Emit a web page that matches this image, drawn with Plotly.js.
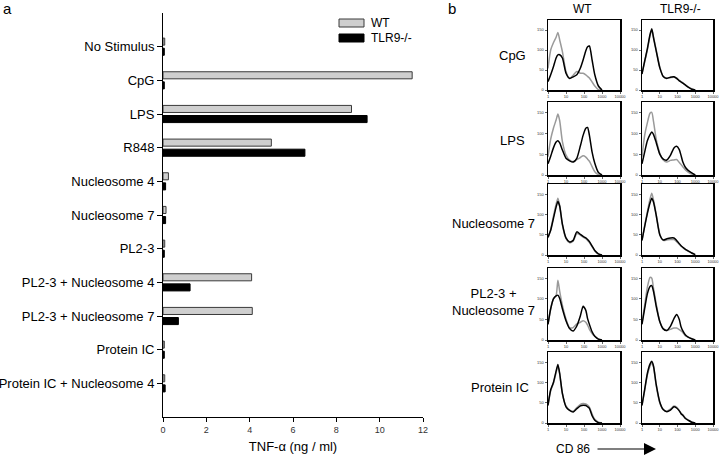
<!DOCTYPE html>
<html>
<head>
<meta charset="utf-8">
<script src="https://cdn.plot.ly/plotly-3.0.1.min.js"></script>
<style>html,body{margin:0;padding:0;background:#fff;}#chart{width:720px;height:458px;}</style>
</head>
<body>
<div id="chart"></div>
<script>
// ---------- Panel a data ----------
const stimuli = ["No Stimulus", "CpG", "LPS", "R848", "Nucleosome 4", "Nucleosome 7", "PL2-3",
  "PL2-3 + Nucleosome 4", "PL2-3 + Nucleosome 7", "Protein IC", "Protein IC + Nucleosome 4"];
const tnfWT    = [0.08, 11.5, 8.7, 5.0, 0.25, 0.14, 0.08, 4.09, 4.12, 0.06, 0.08];
const tnfTLR9  = [0.06, 0.06, 9.42, 6.55, 0.12, 0.12, 0.06, 1.25, 0.71, 0.06, 0.1];
const tnfTicks = [0, 2, 4, 6, 8, 10, 12];

// ---------- Panel b data (CD86 histograms) ----------
const cd86 = [1, 1.41, 2, 2.82, 3.55, 4.47, 6.31, 10, 15.8, 25.1, 39.8, 63.1, 89.1, 126, 158, 200, 282, 398, 631, 1000];
const cd86Ticks = [1, 10, 100, 1000, 10000];
const countTicks = [0, 50, 100, 150];
const rowLabels = ["CpG", "LPS", "Nucleosome 7", "PL2-3 +<br>Nucleosome 7", "Protein IC"];
const colLabels = ["WT", "TLR9-/-"];

const cpgWtGray    = [54, 100, 118, 132, 144, 125, 96, 46, 29, 37, 46, 42, 42, 38, 34, 30, 20, 10, 1, 0];
const cpgWtBlack   = [21, 38, 58, 80, 88, 88, 80, 42, 29, 33, 38, 55, 75, 98, 108, 110, 75, 38, 10, 0];
const cpgKoGray    = [42, 70, 100, 135, 150, 132, 100, 58, 33, 30, 31, 32, 30, 24, 21, 18, 13, 8, 3, 0];
const cpgKoBlack   = [40, 72, 103, 138, 153, 130, 98, 56, 34, 29, 32, 33, 29, 23, 20, 17, 12, 7, 2, 0];
const lpsWtGray    = [44, 86, 112, 132, 146, 130, 80, 48, 36, 32, 37, 42, 46, 43, 38, 33, 20, 8, 1, 0];
const lpsWtBlack   = [27, 45, 65, 79, 82, 77, 60, 40, 34, 31, 40, 70, 95, 112, 114, 95, 55, 28, 6, 0];
const lpsKoGray    = [44, 95, 125, 148, 150, 128, 86, 53, 36, 31, 35, 36, 37, 30, 25, 20, 12, 7, 2, 0];
const lpsKoBlack   = [27, 55, 82, 97, 103, 97, 78, 50, 38, 36, 47, 65, 69, 61, 47, 31, 18, 11, 5, 0];
const nuc7WtGray   = [42, 63, 95, 125, 140, 122, 74, 40, 30, 34, 53, 49, 44, 40, 36, 31, 21, 10, 2, 0];
const nuc7WtBlack  = [44, 61, 90, 118, 132, 120, 76, 42, 32, 36, 57, 51, 46, 42, 38, 33, 22, 11, 3, 0];
const nuc7KoGray   = [36, 72, 106, 138, 152, 135, 100, 52, 36, 37, 38, 38, 33, 26, 22, 18, 13, 9, 5, 1];
const nuc7KoBlack  = [36, 70, 102, 128, 140, 130, 98, 50, 37, 40, 42, 42, 36, 28, 23, 19, 14, 10, 5, 1];
const plNucWtGray  = [38, 76, 100, 108, 145, 118, 84, 51, 30, 30, 39, 43, 47, 43, 36, 26, 16, 9, 2, 0];
const plNucWtBlack = [38, 76, 100, 107, 109, 101, 76, 47, 28, 22, 34, 59, 82, 72, 52, 38, 20, 9, 2, 0];
const plNucKoGray  = [42, 84, 128, 152, 150, 125, 88, 45, 27, 23, 26, 29, 29, 25, 22, 18, 10, 7, 3, 0];
const plNucKoBlack = [38, 76, 112, 130, 132, 118, 82, 45, 27, 23, 33, 52, 62, 50, 32, 22, 12, 7, 3, 0];
const picWtGray    = [42, 80, 98, 124, 140, 120, 72, 42, 32, 29, 38, 46, 48, 47, 44, 39, 22, 9, 2, 0];
const picWtBlack   = [44, 82, 100, 128, 144, 122, 73, 40, 31, 27, 35, 42, 44, 43, 40, 36, 18, 7, 1, 0];
const picKoGray    = [42, 80, 118, 140, 148, 138, 92, 50, 32, 29, 34, 42, 39, 31, 24, 20, 12, 7, 2, 0];
const picKoBlack   = [44, 82, 122, 145, 152, 140, 95, 52, 33, 28, 32, 40, 37, 30, 23, 19, 11, 7, 2, 0];

const histPanels = [
  [[cpgWtGray, cpgWtBlack], [cpgKoGray, cpgKoBlack]],
  [[lpsWtGray, lpsWtBlack], [lpsKoGray, lpsKoBlack]],
  [[nuc7WtGray, nuc7WtBlack], [nuc7KoGray, nuc7KoBlack]],
  [[plNucWtGray, plNucWtBlack], [plNucKoGray, plNucKoBlack]],
  [[picWtGray, picWtBlack], [picKoGray, picKoBlack]]
];

// ---------- Layout geometry (pixels) ----------
const W = 720, H = 458;
const FONT = "Liberation Sans, Arial, sans-serif";
const px = v => v / W;
const py = v => 1 - v / H;

const traces = [];
traces.push({
  type: "bar", orientation: "h", name: "WT",
  y: stimuli, x: tnfWT,
  marker: {color: "#cfcfcf", line: {color: "#3a3a3a", width: 1}},
  xaxis: "x", yaxis: "y", showlegend: false, hoverinfo: "x+y"
});
traces.push({
  type: "bar", orientation: "h", name: "TLR9-/-",
  y: stimuli, x: tnfTLR9,
  marker: {color: "#000000", line: {color: "#000000", width: 1}},
  xaxis: "x", yaxis: "y", showlegend: false, hoverinfo: "x+y"
});

const layout = {
  width: W, height: H,
  margin: {l: 0, r: 0, t: 0, b: 0},
  paper_bgcolor: "#fff", plot_bgcolor: "rgba(0,0,0,0)",
  font: {family: FONT, color: "#000"},
  barmode: "group", bargap: 0.4, bargroupgap: 0.3,
  showlegend: false,
  xaxis: {
    domain: [px(163), px(423)], range: [0, 12], tickvals: tnfTicks,
    showline: true, linecolor: "#000", linewidth: 1,
    ticks: "outside", ticklen: 4, tickcolor: "#000",
    showgrid: false, zeroline: false,
    tickfont: {size: 9, color: "#333"},
    title: {text: "TNF-α (ng / ml)", font: {size: 13, color: "#000"}, standoff: 8},
    anchor: "y"
  },
  yaxis: {
    domain: [py(417), py(13)], type: "category",
    categoryorder: "array", categoryarray: stimuli,
    range: [11, -1],
    showline: true, linecolor: "#000", linewidth: 1,
    ticks: "outside", ticklen: 5, tickcolor: "#000",
    showgrid: false, zeroline: false,
    tickfont: {size: 13, color: "#000"},
    anchor: "x"
  },
  shapes: [],
  annotations: []
};

// legend (panel a)
layout.shapes.push({type: "rect", xref: "paper", yref: "paper", x0: px(339), x1: px(364), y0: py(27), y1: py(19),
  fillcolor: "#cfcfcf", line: {color: "#3a3a3a", width: 1}});
layout.shapes.push({type: "rect", xref: "paper", yref: "paper", x0: px(339), x1: px(364), y0: py(42), y1: py(34),
  fillcolor: "#000", line: {color: "#000", width: 1}});
layout.annotations.push({xref: "paper", yref: "paper", x: px(369), y: py(23), text: "WT", showarrow: false,
  xanchor: "left", yanchor: "middle", font: {size: 12}});
layout.annotations.push({xref: "paper", yref: "paper", x: px(369), y: py(38), text: "TLR9-/-", showarrow: false,
  xanchor: "left", yanchor: "middle", font: {size: 12}});

// panel letters
layout.annotations.push({xref: "paper", yref: "paper", x: px(1), y: py(9), text: "a", showarrow: false,
  xanchor: "left", yanchor: "middle", font: {size: 15}});
layout.annotations.push({xref: "paper", yref: "paper", x: px(446), y: py(9), text: "b", showarrow: false,
  xanchor: "left", yanchor: "middle", font: {size: 15}});

// panel b grid
const colX = [[548, 620], [642, 713]];
const rowY = [[20, 90], [102, 175], [184, 255], [268, 340], [352, 423]];
let ax = 2;
for (let r = 0; r < rowY.length; r++) {
  for (let c = 0; c < colX.length; c++) {
    const xa = "xaxis" + ax, ya = "yaxis" + ax;
    layout[xa] = {
      domain: [px(colX[c][0]), px(colX[c][1])], type: "log", range: [0, 4],
      tickvals: cd86Ticks, ticktext: cd86Ticks.map(String),
      showline: true, mirror: true, linecolor: "#000", linewidth: 1.5,
      ticks: "outside", ticklen: 2, tickwidth: 0.6, tickcolor: "#000",
      showgrid: false, zeroline: false,
      tickfont: {size: 4, color: "#333"}, anchor: "y" + ax
    };
    layout[ya] = {
      domain: [py(rowY[r][1]), py(rowY[r][0])], range: [0, 175],
      tickvals: countTicks,
      showline: true, mirror: true, linecolor: "#000", linewidth: 1.5,
      ticks: "outside", ticklen: 2, tickwidth: 0.6, tickcolor: "#000",
      showgrid: false, zeroline: false,
      tickfont: {size: 4, color: "#333"}, anchor: "x" + ax
    };
    const [gray, black] = histPanels[r][c];
    traces.push({type: "scatter", mode: "lines", x: cd86, y: gray,
      line: {color: "#9a9a9a", width: 1.5, shape: "spline", smoothing: 0.6},
      xaxis: "x" + ax, yaxis: "y" + ax, showlegend: false, hoverinfo: "x+y"});
    traces.push({type: "scatter", mode: "lines", x: cd86, y: black,
      line: {color: "#000", width: 1.5, shape: "spline", smoothing: 0.6},
      xaxis: "x" + ax, yaxis: "y" + ax, showlegend: false, hoverinfo: "x+y"});
    ax++;
  }
}

// column titles
layout.annotations.push({xref: "paper", yref: "paper", x: px(582), y: py(9), text: colLabels[0], showarrow: false,
  xanchor: "center", yanchor: "middle", font: {size: 12}});
layout.annotations.push({xref: "paper", yref: "paper", x: px(680), y: py(9), text: colLabels[1], showarrow: false,
  xanchor: "center", yanchor: "middle", font: {size: 12}});

// row labels
const rowLabelX = [512, 512, 493, 493, 500];
const rowLabelY = [55, 140, 223, 302, 387];
for (let r = 0; r < rowLabels.length; r++) {
  layout.annotations.push({xref: "paper", yref: "paper", x: px(rowLabelX[r]), y: py(rowLabelY[r]),
    text: rowLabels[r], showarrow: false, xanchor: "center", yanchor: "middle", align: "center",
    font: {size: 13}});
}

// CD 86 arrow
layout.annotations.push({xref: "paper", yref: "paper", x: px(573), y: py(449), text: "CD 86", showarrow: false,
  xanchor: "center", yanchor: "middle", font: {size: 12}});
layout.annotations.push({xref: "paper", yref: "paper", x: px(656), y: py(449), text: "", showarrow: true,
  ax: -60, ay: 0, arrowhead: 2, arrowsize: 2, arrowwidth: 1.2, arrowcolor: "#000"});

Plotly.newPlot("chart", traces, layout, {staticPlot: true, displayModeBar: false});
</script>
</body>
</html>
